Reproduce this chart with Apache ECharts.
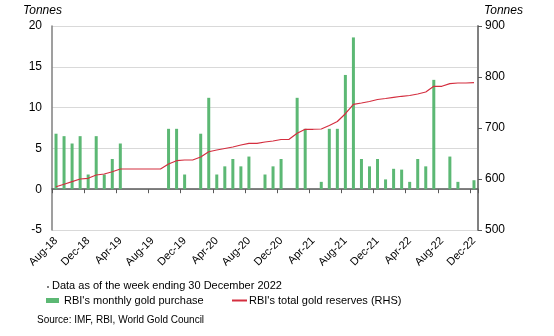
<!DOCTYPE html>
<html>
<head>
<meta charset="utf-8">
<script src="https://cdn.jsdelivr.net/npm/echarts@6/dist/echarts.min.js"></script>
<style>
html,body{margin:0;padding:0;background:#fff;}
#c{width:554px;height:336px;}
</style>
</head>
<body>
<div id="c"></div>
<script>
var categories = ['Aug-18','Sep-18','Oct-18','Nov-18','Dec-18','Jan-19','Feb-19','Mar-19','Apr-19','May-19','Jun-19','Jul-19','Aug-19','Sep-19','Oct-19','Nov-19','Dec-19','Jan-20','Feb-20','Mar-20','Apr-20','May-20','Jun-20','Jul-20','Aug-20','Sep-20','Oct-20','Nov-20','Dec-20','Jan-21','Feb-21','Mar-21','Apr-21','May-21','Jun-21','Jul-21','Aug-21','Sep-21','Oct-21','Nov-21','Dec-21','Jan-22','Feb-22','Mar-22','Apr-22','May-22','Jun-22','Jul-22','Aug-22','Sep-22','Oct-22','Nov-22','Dec-22'];

var monthlyPurchase = [6.8,6.5,5.6,6.5,1.8,6.5,1.8,3.7,5.6,0,0,0,0,0,7.4,7.4,1.8,0,6.8,11.2,1.8,2.8,3.7,2.8,4.0,0,1.8,2.8,3.7,0,11.2,7.4,0,0.9,7.4,7.4,14.0,18.6,3.7,2.8,3.7,1.2,2.5,2.4,0.9,3.7,2.8,13.4,0,4.0,0.9,0,1.1];

var totalReserves = [584.7,589.8,594.9,600.0,601.4,607.8,609.8,614.3,619.6,619.6,619.6,619.6,619.6,619.6,629.4,635.9,637.3,637.3,643.1,653.5,656.9,659.8,662.7,666.7,670.0,670.0,672.5,674.5,677.5,677.8,689.6,697.5,697.5,698.0,704.9,712.7,728.0,746.5,749.0,752.0,755.9,757.8,760.2,762.2,763.7,766.7,770.6,781.8,781.8,786.9,788.2,788.2,788.8];

var leftTicks = {min: -5, max: 20, interval: 5};
var rightTicks = {min: 500, max: 900, interval: 100};

var seriesNames = ["RBI's monthly gold purchase", "RBI's total gold reserves (RHS)"];
var axisTitle = 'Tonnes';
var noteText = 'Data as of the week ending 30 December 2022';
var sourceText = 'Source: IMF, RBI, World Gold Council';

var FONT = "'Liberation Sans', Arial, sans-serif";
var GREEN = '#5cb874';
var RED = '#d42e3f';

var chart = echarts.init(document.getElementById('c'), null, {renderer: 'canvas'});
chart.setOption({
  animation: false,
  backgroundColor: '#fff',
  textStyle: {fontFamily: FONT},
  grid: {left: 52, right: 76, top: 26, bottom: 106, containLabel: false},
  legend: [{
    left: 46, top: 295, padding: 0,
    itemWidth: 13, itemHeight: 5,
    textStyle: {fontFamily: FONT, fontSize: 11, color: '#000'},
    data: [{name: seriesNames[0], icon: 'rect'}]
  }, {
    left: 232, top: 295, padding: 0,
    itemWidth: 15, itemHeight: 2,
    textStyle: {fontFamily: FONT, fontSize: 11, color: '#000', padding: [0, 0, 0, -3]},
    data: [{name: seriesNames[1], icon: 'rect', itemStyle: {color: RED}}]
  }],
  xAxis: [{
    type: 'category', data: categories, boundaryGap: true,
    axisLine: {show: true, onZero: true, lineStyle: {color: '#595959', width: 1.5}},
    axisTick: {show: true, interval: 3, length: 4, lineStyle: {color: '#595959', width: 1}},
    axisLabel: {show: false},
    splitLine: {show: false}
  }, {
    type: 'category', data: categories, boundaryGap: true, position: 'bottom',
    axisLine: {show: false, onZero: false},
    axisTick: {show: false},
    axisLabel: {show: true, interval: 3, rotate: 45, margin: 9, fontSize: 11, color: '#000', fontFamily: FONT},
    splitLine: {show: false}
  }],
  yAxis: [{
    type: 'value', min: leftTicks.min, max: leftTicks.max, interval: leftTicks.interval, position: 'left',
    axisLine: {show: true, lineStyle: {color: '#7f7f7f', width: 1.5}},
    axisTick: {show: false},
    axisLabel: {color: '#000', fontSize: 12, margin: 10, fontFamily: FONT},
    splitLine: {show: true, lineStyle: {color: '#d9d9d9', width: 1}}
  }, {
    type: 'value', min: rightTicks.min, max: rightTicks.max, interval: rightTicks.interval, position: 'right',
    axisLine: {show: true, lineStyle: {color: '#808080', width: 2}},
    axisTick: {show: true, inside: false, length: 4, lineStyle: {color: '#595959', width: 1}},
    axisLabel: {color: '#000', fontSize: 12, margin: 7, fontFamily: FONT},
    splitLine: {show: false}
  }],
  graphic: [
    {type: 'text', left: 23, top: 5, style: {text: axisTitle, font: 'italic 12px ' + FONT, fill: '#000'}},
    {type: 'text', left: 484, top: 5, style: {text: axisTitle, font: 'italic 12px ' + FONT, fill: '#000'}},
    {type: 'rect', shape: {x: 47, y: 286, width: 2, height: 2}, style: {fill: '#808080'}},
    {type: 'text', left: 52, top: 280, style: {text: noteText, font: '11px ' + FONT, fill: '#000'}},
    {type: 'text', left: 37, top: 315, style: {text: sourceText, font: '10px ' + FONT, fill: '#000'}}
  ],
  series: [{
    name: seriesNames[0], type: 'bar', xAxisIndex: 0, yAxisIndex: 0,
    data: monthlyPurchase, barWidth: 3,
    itemStyle: {color: GREEN}
  }, {
    name: seriesNames[1], type: 'line', xAxisIndex: 0, yAxisIndex: 1,
    data: totalReserves, symbol: 'none', showSymbol: false,
    lineStyle: {color: RED, width: 1.2},
    itemStyle: {color: RED}
  }]
});
</script>
</body>
</html>
